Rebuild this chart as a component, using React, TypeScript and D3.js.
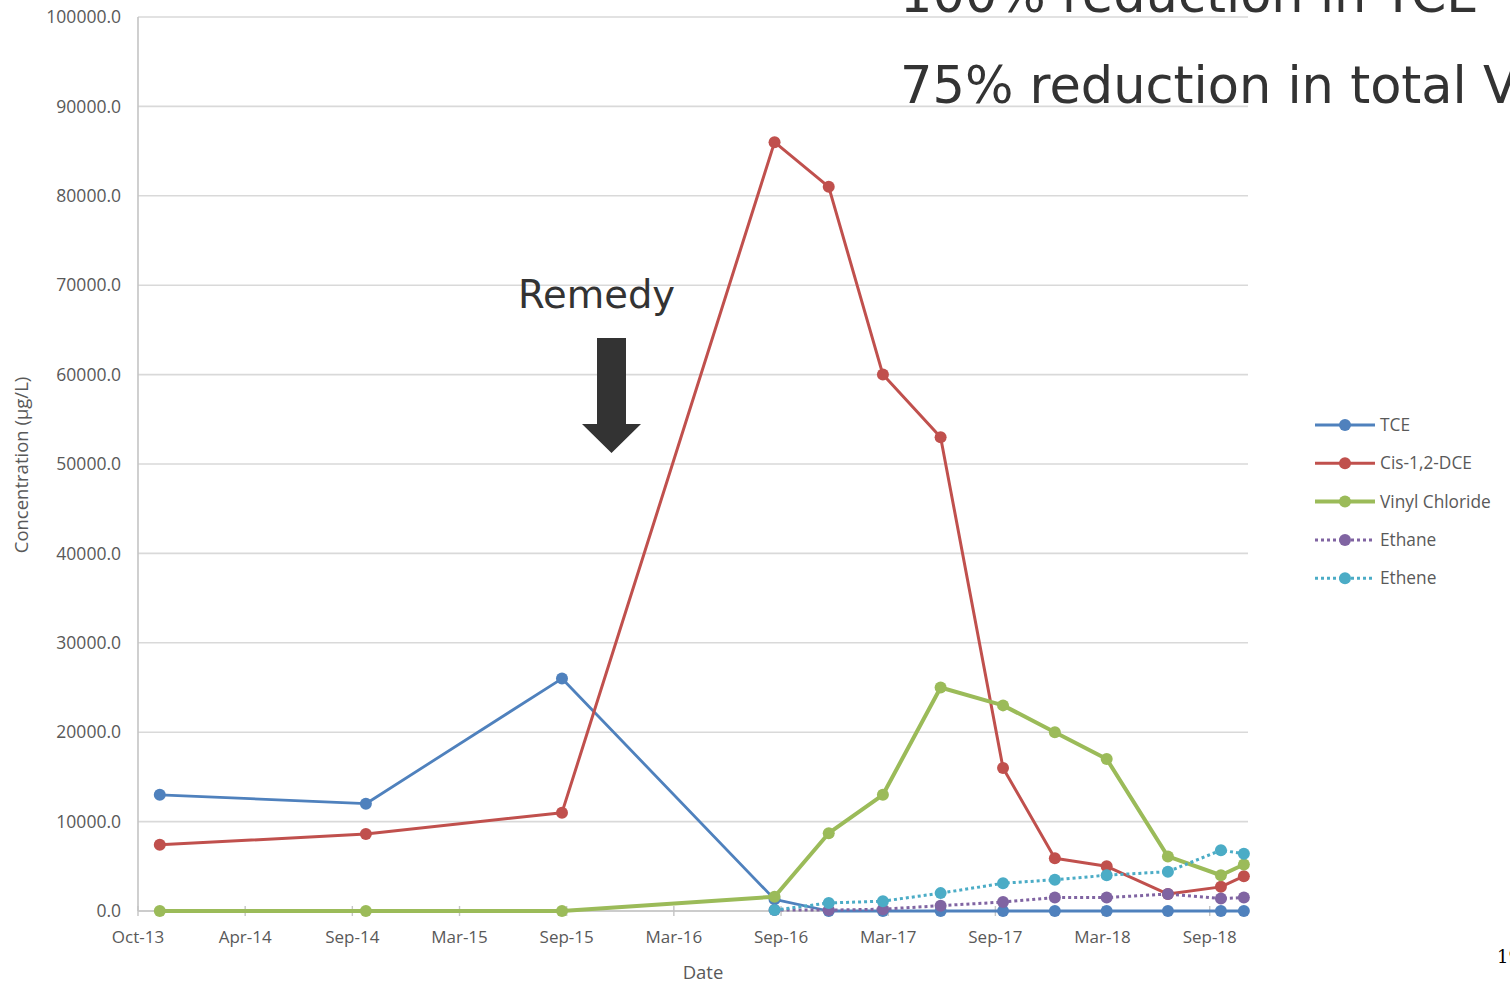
import React from "react";
import * as d3 from "d3";

// Sampling dates (ISO) shared by every series
const sampleDates = [
  "2013-11-07", "2014-10-23", "2015-09-21", "2016-09-16", "2016-12-17",
  "2017-03-19", "2017-06-25", "2017-10-09", "2018-01-05", "2018-04-03",
  "2018-07-16", "2018-10-14", "2018-11-22",
];

// Concentrations in µg/L (null = not sampled)
const tce = [13000, 12000, 26000, 1300, 0, 0, 0, 0, 0, 0, 0, 0, 0];
const cisDce = [7400, 8600, 11000, 86000, 81000, 60000, 53000, 16000, 5900, 5000, 1900, 2700, 3900];
const vinylChloride = [0, 0, 0, 1600, 8700, 13000, 25000, 23000, 20000, 17000, 6100, 4000, 5200];
const ethane = [null, null, null, 100, 100, 200, 600, 1000, 1500, 1500, 1900, 1400, 1500];
const ethene = [null, null, null, 100, 900, 1100, 2000, 3100, 3500, 4000, 4400, 6800, 6400];

const seriesNames = ["TCE", "Cis-1,2-DCE", "Vinyl Chloride", "Ethane", "Ethene"];
const seriesColors = ["#4f81bd", "#c0504d", "#9bbb59", "#8064a2", "#4bacc6"];
const seriesDotted = [false, false, false, true, true];
const seriesWidths = [2.8, 3, 4, 3, 3];

const yTicks = [0, 10000, 20000, 30000, 40000, 50000, 60000, 70000, 80000, 90000, 100000];

// Axis starts Oct 1 2013 with a major unit of 182 days
const axisStart = "2013-10-01";
const majorUnitDays = 182;
const tickCount = 11;
const axisSpanDays = 1885;

const headlineLines = ["100% reduction in TCE", "75% reduction in total VOCs"];

const W = 1510;
const H = 984;
const plot = { left: 138, right: 1248, top: 17, bottom: 911 };

export default function App() {
  const parse = d3.utcParse("%Y-%m-%d");
  const start = parse(axisStart) as Date;
  const end = d3.utcDay.offset(start, axisSpanDays);
  const x = d3.scaleUtc().domain([start, end]).range([plot.left, plot.right]);
  const y = d3.scaleLinear().domain([0, 100000]).range([plot.bottom, plot.top]);
  const xTicks = d3.range(tickCount).map((i) => d3.utcDay.offset(start, i * majorUnitDays));
  const fmtX = d3.utcFormat("%b-%y");
  const fmtY = d3.format(".1f");
  const dates = sampleDates.map((s) => parse(s) as Date);

  const allSeries = [tce, cisDce, vinylChloride, ethane, ethene];

  const line = d3
    .line<[Date, number | null]>()
    .defined((d) => d[1] != null)
    .x((d) => x(d[0]))
    .y((d) => y(d[1] as number));

  const tickFont = "'Open Sans', sans-serif";
  const grey = "#595959";

  return (
    <svg
      width={W}
      height={H}
      style={{ position: "absolute", left: 0, top: 0, background: "#fff" }}
    >
      <rect x={0} y={0} width={W} height={H} fill="#fff" />
      {/* gridlines */}
      {yTicks.map((t) => (
        <line key={"g" + t} x1={plot.left} x2={plot.right} y1={y(t)} y2={y(t)} stroke="#d9d9d9" strokeWidth={1.6} />
      ))}
      {/* y axis line */}
      <line x1={plot.left} x2={plot.left} y1={plot.top} y2={plot.bottom} stroke="#c4c4c4" strokeWidth={1.6} />
      {/* x axis line + tick marks */}
      <line x1={plot.left} x2={plot.right} y1={plot.bottom} y2={plot.bottom} stroke="#c4c4c4" strokeWidth={1.6} />
      {xTicks.map((t, i) => (
        <line key={"xt" + i} x1={x(t)} x2={x(t)} y1={plot.bottom - 5} y2={plot.bottom + 5} stroke="#c4c4c4" strokeWidth={1.4} />
      ))}
      {/* y tick labels */}
      {yTicks.map((t) => (
        <text key={"yl" + t} x={121} y={y(t)} dy="0.35em" textAnchor="end" fontFamily={tickFont} fontSize={17.5} fill={grey}>
          {fmtY(t)}
        </text>
      ))}
      {/* x tick labels */}
      {xTicks.map((t, i) => (
        <text key={"xl" + i} x={x(t)} y={943} textAnchor="middle" fontFamily={tickFont} fontSize={17} fill={grey}>
          {fmtX(t)}
        </text>
      ))}
      {/* axis titles */}
      <text x={703} y={979} textAnchor="middle" fontFamily={tickFont} fontSize={18.5} fill={grey}>
        Date
      </text>
      <text
        transform="translate(28,465) rotate(-90)"
        textAnchor="middle"
        fontFamily={tickFont}
        fontSize={18.5}
        fill={grey}
      >
        Concentration (µg/L)
      </text>

      {/* series */}
      {allSeries.map((vals, si) => {
        const pts = dates.map((d, i) => [d, vals[i]] as [Date, number | null]);
        return (
          <g key={"s" + si}>
            <path
              d={line(pts) || ""}
              fill="none"
              stroke={seriesColors[si]}
              strokeWidth={seriesWidths[si]}
              strokeDasharray={seriesDotted[si] ? "3,3" : undefined}
              strokeLinejoin="round"
            />
            {pts
              .filter((p) => p[1] != null)
              .map((p, i) => (
                <circle key={i} cx={x(p[0])} cy={y(p[1] as number)} r={6} fill={seriesColors[si]} />
              ))}
          </g>
        );
      })}

      {/* legend */}
      {seriesNames.map((name, i) => {
        const ly = 425 + i * 38.3;
        return (
          <g key={"lg" + i}>
            <line
              x1={1315}
              x2={1375}
              y1={ly}
              y2={ly}
              stroke={seriesColors[i]}
              strokeWidth={seriesWidths[i]}
              strokeDasharray={seriesDotted[i] ? "3,3" : undefined}
            />
            <circle cx={1345} cy={ly} r={6} fill={seriesColors[i]} />
            <text x={1380} y={ly} dy="0.35em" fontFamily={tickFont} fontSize={17.3} fill={grey}>
              {name}
            </text>
          </g>
        );
      })}

      {/* remedy annotation */}
      <text x={518} y={308} fontFamily="'DejaVu Sans', sans-serif" fontSize={38.5} fill="#333">
        Remedy
      </text>
      <polygon
        points="597,338 626,338 626,424 641,424 611.5,453 582,424 597,424"
        fill="#333"
      />

      {/* headline text */}
      {headlineLines.map((t, i) => (
        <text key={"h" + i} x={900} y={12 + i * 91} fontFamily="'DejaVu Sans', sans-serif" fontSize={51} fill="#333">
          {t}
        </text>
      ))}

      <text x={1497} y={963} fontFamily="'DejaVu Serif', serif" fontSize={18} fill="#000">
        19
      </text>
    </svg>
  );
}
